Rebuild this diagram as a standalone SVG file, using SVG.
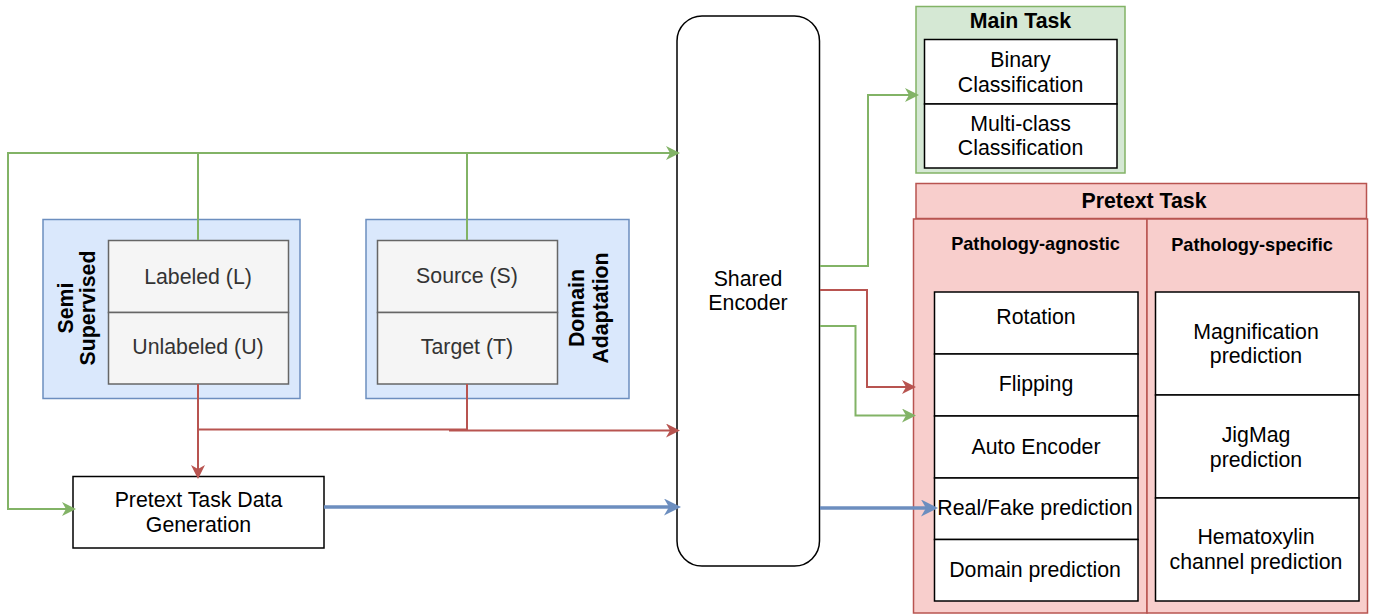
<svg xmlns="http://www.w3.org/2000/svg" width="1379" height="614" viewBox="0 0 1379 614">
<style>
text{font-family:"Liberation Sans",Arial,Helvetica,sans-serif;font-size:21.3px;fill:#000;text-anchor:middle}
.b{font-weight:bold;font-size:21.3px}
.h{font-weight:bold;font-size:18.2px}
.g{fill:#333333}
.blue{fill:#dae8fc;stroke:#6c8ebf;stroke-width:1.5}
.gray{fill:#f5f5f5;stroke:#666666;stroke-width:1.5}
.grn{fill:#d5e8d4;stroke:#82b366;stroke-width:1.5}
.pink{fill:#f8cecc;stroke:#b85450;stroke-width:1.5}
.box{fill:#ffffff;stroke:#000000;stroke-width:1.5}
.eg{fill:none;stroke:#82b366;stroke-width:2}
.er{fill:none;stroke:#b85450;stroke-width:2}
.eb{fill:none;stroke:#6c8ebf;stroke-width:3.5}
</style>
<defs>
<marker id="ag" markerUnits="userSpaceOnUse" markerWidth="16" markerHeight="16" refX="11" refY="7" orient="auto"><path d="M0,0 L14,7 L0,14 L4,7 Z" fill="#82b366"/></marker>
<marker id="ar" markerUnits="userSpaceOnUse" markerWidth="16" markerHeight="16" refX="11" refY="7" orient="auto"><path d="M0,0 L14,7 L0,14 L4,7 Z" fill="#b85450"/></marker>
<marker id="ab" markerUnits="userSpaceOnUse" markerWidth="20" markerHeight="20" refX="13" refY="8.5" orient="auto"><path d="M0,0 L17,8.5 L0,17 L5,8.5 Z" fill="#6c8ebf"/></marker>
</defs>

<g id="semi-supervised">
<rect class="blue" x="43" y="219.5" width="257" height="179"/>
<text class="b" transform="translate(72.5,308) rotate(-90)">Semi</text>
<text class="b" transform="translate(95,308) rotate(-90)">Supervised</text>
</g>
<g id="labeled">
<rect class="gray" x="108.5" y="240.5" width="180" height="72"/>
<text class="g" x="198" y="283.5">Labeled (L)</text>
</g>
<g id="unlabeled">
<rect class="gray" x="108.5" y="312.5" width="180" height="71.5"/>
<text class="g" x="198" y="354">Unlabeled (U)</text>
</g>

<g id="domain-adaptation">
<rect class="blue" x="366" y="219.5" width="263" height="179"/>
<text class="b" transform="translate(583.5,308) rotate(-90)">Domain</text>
<text class="b" transform="translate(608,308) rotate(-90)">Adaptation</text>
</g>
<g id="source">
<rect class="gray" x="377.5" y="240.5" width="180" height="72"/>
<text class="g" x="467" y="283">Source (S)</text>
</g>
<g id="target">
<rect class="gray" x="377.5" y="312.5" width="180" height="71.5"/>
<text class="g" x="467" y="354">Target (T)</text>
</g>

<g id="pretext-data-generation">
<rect class="box" x="73" y="476.5" width="251" height="71.5"/>
<text x="198.5" y="507">Pretext Task Data</text>
<text x="198.5" y="531.5">Generation</text>
</g>

<g id="shared-encoder">
<rect x="677" y="16" width="142.5" height="550" rx="25" ry="25" fill="#ffffff" stroke="#000000" stroke-width="1.5"/>
<text x="748" y="286">Shared</text>
<text x="748" y="310">Encoder</text>
</g>

<g id="main-task">
<rect class="grn" x="916" y="6.5" width="209" height="166.5"/>
<text class="b" x="1020.5" y="27.5">Main Task</text>
</g>
<g id="binary-classification">
<rect class="box" x="924.5" y="39.5" width="192.5" height="64.5"/>
<text x="1020.5" y="67">Binary</text>
<text x="1020.5" y="91.5">Classification</text>
</g>
<g id="multiclass-classification">
<rect class="box" x="924.5" y="104" width="192.5" height="64"/>
<text x="1020.5" y="130.5">Multi-class</text>
<text x="1020.5" y="155">Classification</text>
</g>

<g id="pretext-task">
<rect class="pink" x="916" y="183.5" width="450.5" height="35"/>
<text class="b" x="1144" y="208">Pretext Task</text>
</g>
<g id="pathology-agnostic">
<rect class="pink" x="913.5" y="219" width="233.5" height="394"/>
<text class="h" x="1035.5" y="250">Pathology-agnostic</text>
</g>
<g id="pathology-specific">
<rect class="pink" x="1147" y="219" width="220.5" height="394"/>
<text class="h" x="1252" y="251">Pathology-specific</text>
</g>
<g id="rotation">
<rect class="box" x="934.5" y="292" width="203.5" height="62"/>
<text x="1036" y="323.5">Rotation</text>
</g>
<g id="flipping">
<rect class="box" x="934.5" y="354" width="203.5" height="62"/>
<text x="1036" y="391">Flipping</text>
</g>
<g id="auto-encoder">
<rect class="box" x="934.5" y="416" width="203.5" height="62"/>
<text x="1036" y="453.5">Auto Encoder</text>
</g>
<g id="real-fake">
<rect class="box" x="934.5" y="478" width="203.5" height="61.5"/>
<text x="1035" y="515">Real/Fake prediction</text>
</g>
<g id="domain-prediction">
<rect class="box" x="934.5" y="539.5" width="203.5" height="61.5"/>
<text x="1035" y="577">Domain prediction</text>
</g>
<g id="magnification">
<rect class="box" x="1155.5" y="292" width="203.5" height="103"/>
<text x="1256" y="338.5">Magnification</text>
<text x="1256" y="363">prediction</text>
</g>
<g id="jigmag">
<rect class="box" x="1155.5" y="395" width="203.5" height="103"/>
<text x="1256" y="442">JigMag</text>
<text x="1256" y="466.5">prediction</text>
</g>
<g id="hematoxylin">
<rect class="box" x="1155.5" y="498" width="203.5" height="103"/>
<text x="1256" y="544">Hematoxylin</text>
<text x="1256" y="568.5">channel prediction</text>
</g>

<g id="connectors">
<path class="eg" d="M8,153 H677" marker-end="url(#ag)"/>
<path class="eg" d="M198,240 V153"/>
<path class="eg" d="M467,240 V153"/>
<path class="eg" d="M8,152 V509 H73" marker-end="url(#ag)"/>
<path class="er" d="M198,384 V476" marker-end="url(#ar)"/>
<path class="er" d="M198,429.5 H467"/>
<path class="er" d="M467,384 V430.5"/>
<path class="er" d="M449,430.5 H677" marker-end="url(#ar)"/>
<path class="eb" d="M324,507 H677" marker-end="url(#ab)"/>
<path class="eb" d="M820,508 H934" marker-end="url(#ab)"/>
<path class="eg" d="M820,266 H868 V95 H916" marker-end="url(#ag)"/>
<path class="er" d="M820,290 H867 V387 H913" marker-end="url(#ar)"/>
<path class="eg" d="M820,326 H855.5 V415.5 H913" marker-end="url(#ag)"/>
</g>
</svg>
